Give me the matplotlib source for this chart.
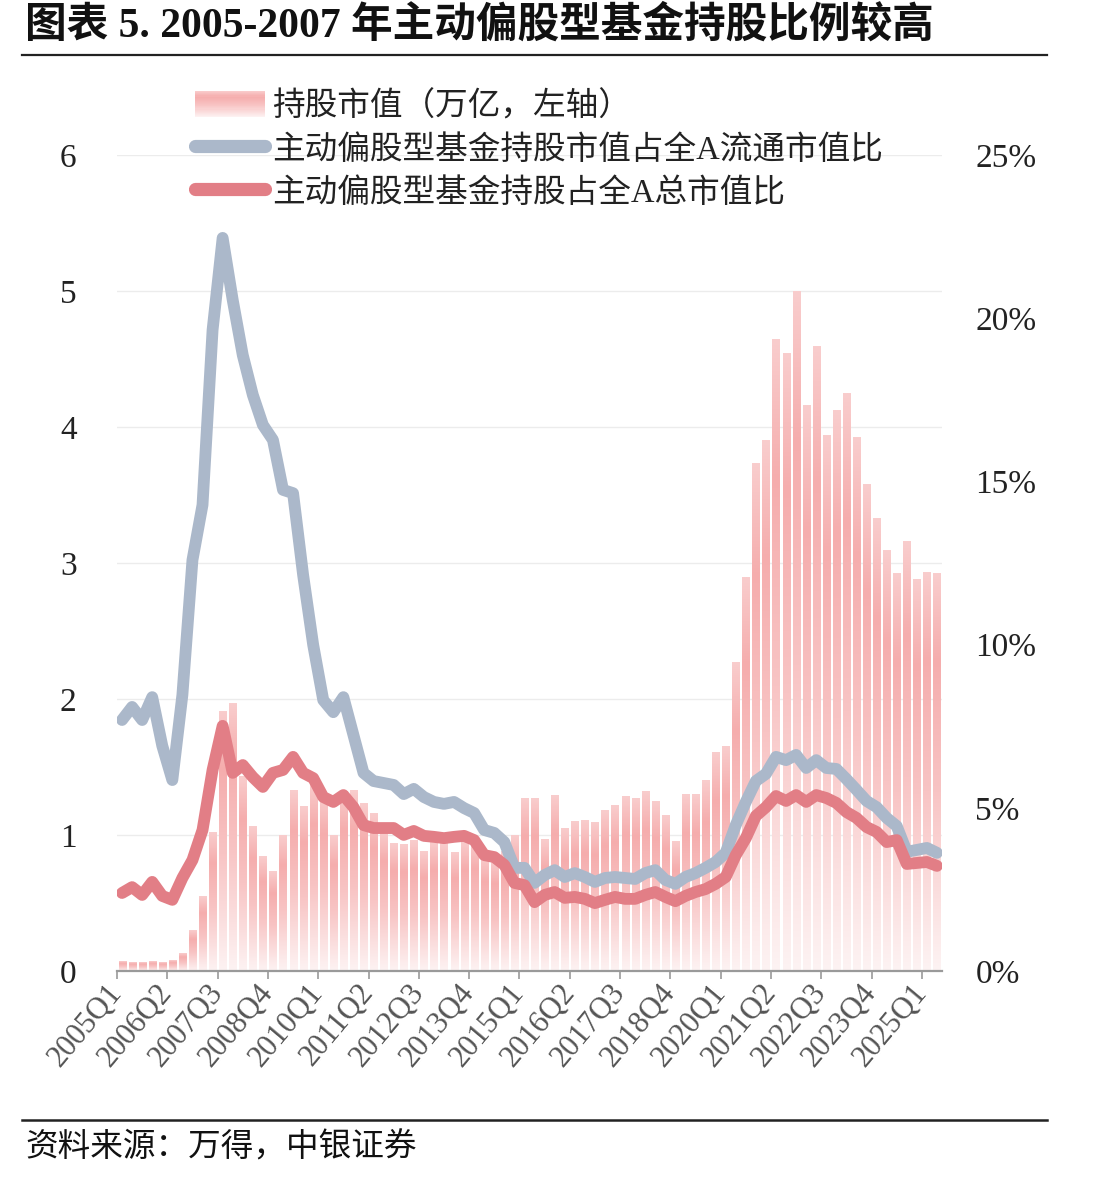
import numpy as np
import matplotlib
matplotlib.use("Agg")
import matplotlib.pyplot as plt
from matplotlib.colors import LinearSegmentedColormap
from matplotlib.patches import Rectangle
from matplotlib.lines import Line2D
from matplotlib.legend_handler import HandlerBase

plt.rcParams['font.family'] = ['Liberation Serif', 'Noto Sans CJK SC', 'DejaVu Sans']

# ---------------- data ----------------
years = list(range(2005, 2026))
quarters = [f"{y}Q{q}" for y in years for q in range(1, 5)][:82]   # 2005Q1 .. 2025Q2

holding_value = [  # 持股市值（万亿）
    0.07, 0.06, 0.06, 0.07, 0.06, 0.08, 0.13, 0.30, 0.55, 1.02,
    1.91, 1.97, 1.43, 1.06, 0.84, 0.73, 1.00, 1.33, 1.21, 1.38,
    1.29, 1.00, 1.32, 1.33, 1.23, 1.16, 1.03, 0.94, 0.93, 0.96,
    0.88, 0.95, 0.94, 0.87, 0.95, 0.96, 0.84, 0.82, 0.88, 1.00,
    1.27, 1.27, 0.97, 1.29, 1.05, 1.10, 1.11, 1.09, 1.18, 1.22,
    1.28, 1.27, 1.32, 1.25, 1.14, 0.95, 1.30, 1.30, 1.40, 1.61,
    1.65, 2.27, 2.89, 3.73, 3.90, 4.64, 4.54, 5.00, 4.16, 4.59,
    3.94, 4.12, 4.25, 3.92, 3.58, 3.33, 3.09, 2.92, 3.16, 2.88,
    2.93, 2.92,
]

float_ratio = [  # 占全A流通市值比 (%)
    7.69, 8.09, 7.69, 8.39, 6.90, 5.85, 8.46, 12.59, 14.28, 19.64,
    22.46, 20.56, 18.87, 17.65, 16.73, 16.27, 14.74, 14.64, 12.13, 9.99,
    8.30, 7.93, 8.39, 7.23, 6.07, 5.82, 5.76, 5.70, 5.42, 5.58,
    5.33, 5.18, 5.12, 5.18, 4.99, 4.84, 4.32, 4.23, 3.95, 3.16,
    3.16, 2.70, 2.94, 3.09, 2.88, 3.00, 2.88, 2.73, 2.85, 2.88,
    2.85, 2.82, 3.00, 3.09, 2.79, 2.67, 2.88, 3.00, 3.16, 3.34,
    3.62, 4.47, 5.18, 5.82, 6.04, 6.56, 6.46, 6.62, 6.22, 6.46,
    6.22, 6.19, 5.88, 5.55, 5.21, 5.02, 4.69, 4.44, 3.65, 3.71,
    3.77, 3.62,
]

total_ratio = [  # 占全A总市值比 (%)
    2.39, 2.57, 2.33, 2.73, 2.30, 2.18, 2.85, 3.40, 4.32, 6.16,
    7.51, 6.07, 6.31, 5.94, 5.64, 6.07, 6.16, 6.56, 6.07, 5.91,
    5.33, 5.18, 5.39, 5.02, 4.47, 4.38, 4.38, 4.38, 4.17, 4.29,
    4.14, 4.11, 4.07, 4.11, 4.14, 4.01, 3.55, 3.49, 3.25, 2.70,
    2.63, 2.11, 2.33, 2.42, 2.24, 2.27, 2.21, 2.08, 2.18, 2.27,
    2.21, 2.21, 2.33, 2.42, 2.27, 2.14, 2.30, 2.42, 2.51, 2.67,
    2.88, 3.55, 4.07, 4.75, 5.02, 5.36, 5.21, 5.39, 5.18, 5.39,
    5.30, 5.15, 4.87, 4.69, 4.41, 4.26, 3.95, 4.01, 3.28, 3.31,
    3.34, 3.22,
]

left_ticks = [0, 1, 2, 3, 4, 5, 6]
right_ticks = [0, 5, 10, 15, 20, 25]
labels = ['持股市值（万亿，左轴）', '主动偏股型基金持股市值占全A流通市值比', '主动偏股型基金持股占全A总市值比']

# ---------------- styles ----------------
BLUE = '#ABB8CA'
RED = '#E27E86'
bar_cmap = LinearSegmentedColormap.from_list(
    'bar', [(0.0, '#fdf3f3'), (0.45, '#f8c4c4'), (0.78, '#f5adad'), (1.0, '#f9cdcd')])

W, H = 1101, 1179
fig = plt.figure(figsize=(W / 100, H / 100), dpi=100)
ax = fig.add_axes([117 / W, 1 - 971 / H, (942 - 117) / W, (971 - 155) / H])

x = np.arange(len(quarters))
bars = ax.bar(x, holding_value, width=0.7, color='none', edgecolor='none', zorder=1)
grad = np.linspace(0, 1, 256).reshape(-1, 1)
for rect in bars:
    x0, w, h = rect.get_x(), rect.get_width(), rect.get_height()
    ax.imshow(grad, extent=[x0, x0 + w, 0, h], origin='lower', cmap=bar_cmap,
              vmin=0, vmax=1, aspect='auto', zorder=1, interpolation='bilinear')

ax.set_xlim(-0.5, len(quarters) - 0.5)
ax.set_ylim(0, 6)
ax.set_yticks(left_ticks)
ax.set_yticklabels([str(t) for t in left_ticks])
ax.yaxis.grid(True, color='#ECECEC', lw=1.0, zorder=0.5)
ax.set_axisbelow(True)
for s in ['top', 'right', 'left']:
    ax.spines[s].set_visible(False)
ax.spines['bottom'].set_color('#9a9a9a')
ax.spines['bottom'].set_linewidth(1.6)
tick_pos = np.arange(0, len(quarters), 5) - 0.5
ax.set_xticks(tick_pos)
ax.set_xticklabels([quarters[i] for i in range(0, len(quarters), 5)],
                   rotation=50, ha='right', va='center', rotation_mode='anchor')
ax.tick_params(axis='x', length=6, width=1.2, color='#9a9a9a', labelsize=22, pad=6,
               labelcolor='#555555')
ax.tick_params(axis='y', length=0, pad=29, labelsize=24, labelcolor='#222222')

ax2 = ax.twinx()
ax2.set_position(ax.get_position())
ax2.plot(x, float_ratio, color=BLUE, lw=8.5, solid_capstyle='round', solid_joinstyle='round', zorder=3)
ax2.plot(x, total_ratio, color=RED, lw=8.5, solid_capstyle='round', solid_joinstyle='round', zorder=4)
ax2.set_ylim(0, 25)
ax2.set_yticks(right_ticks)
ax2.set_yticklabels([f'{t}%' for t in right_ticks])
ax2.tick_params(axis='y', length=0, pad=24, labelsize=24, labelcolor='#222222')
for s in ['top', 'right', 'left', 'bottom']:
    ax2.spines[s].set_visible(False)


class GradHandler(HandlerBase):
    def create_artists(self, legend, orig_handle, xdescent, ydescent, width, height, fontsize, trans):
        arts = []
        n = 24
        for k in range(n):
            y0 = -ydescent + height * k / n
            arts.append(Rectangle((-xdescent, y0), width, height / n * 1.05,
                                  facecolor=bar_cmap((k + 0.5) / n), edgecolor='none', transform=trans))
        return arts


proxy = Rectangle((0, 0), 1, 1)
h_blue = Line2D([], [], color=BLUE, lw=9.5, solid_capstyle='round')
h_red = Line2D([], [], color=RED, lw=9.5, solid_capstyle='round')
leg = ax2.legend([proxy, h_blue, h_red], labels, handler_map={proxy: GradHandler()},
                 loc='upper left', bbox_to_anchor=(195 / W, 1 - 91 / H), bbox_transform=fig.transFigure,
                 frameon=False, fontsize=23.5, handlelength=2.15, handleheight=0.85, handletextpad=0.22,
                 labelspacing=0.36, borderpad=0, borderaxespad=0)
for t in leg.get_texts():
    t.set_color('#222222')

# title, rules, source
fig.text(25 / W, 1 - 25 / H, '图表 5. 2005-2007 年主动偏股型基金持股比例较高',
         fontsize=30, fontweight='bold', ha='left', va='center', color='#111111')
fig.add_artist(Line2D([22 / W, 1047 / W], [1 - 55 / H] * 2, color='#222222', lw=1.6))
fig.add_artist(Line2D([22 / W, 1047 / W], [1 - 1120 / H] * 2, color='#222222', lw=1.8))
fig.text(25 / W, 1 - 1148 / H, '资料来源：万得，中银证券', fontsize=23.5, ha='left', va='center', color='#111111')

fig.savefig('out.png', dpi=100)
